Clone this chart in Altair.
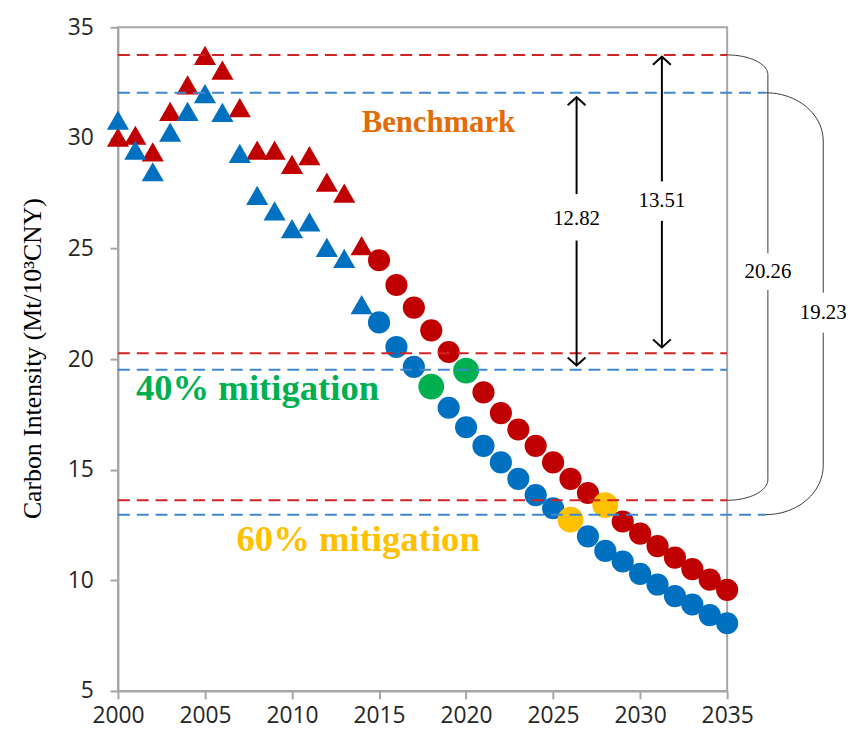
import altair as alt
import pandas as pd
import numpy as np

# ---------------- data ----------------
years = list(range(2000, 2036))
benchmark_red = [30.03, 30.12, 29.37, 31.20, 32.40, 33.73, 33.06, 31.37, 29.45, 29.45,
                 28.80, 29.20, 28.00, 27.50, 25.13,
                 24.47, 23.35, 22.33, 21.30, 20.32, 19.48, 18.50, 17.56, 16.82, 16.08,
                 15.33, 14.59, 13.95, 13.40, 12.66, 12.11, 11.55, 11.03, 10.51, 10.03, 9.57]
benchmark_blue = [30.80, 29.45, 28.47, 30.26, 31.20, 32.00, 31.15, 29.30, 27.40, 26.70,
                  25.90, 26.20, 25.05, 24.55, 22.46,
                  21.66, 20.55, 19.65, 18.76, 17.80, 16.92, 16.08, 15.33, 14.59, 13.85,
                  13.26, 12.74, 11.99, 11.33, 10.85, 10.29, 9.81, 9.29, 8.91, 8.43, 8.06]
last_history_year = 2014

# highlighted years (40% mitigation = green, 60% mitigation = yellow)
green_years = {"blue": 2018, "red": 2020}
yellow_years = {"blue": 2026, "red": 2028}

# dashed reference levels
red_levels = [33.75, 20.27, 13.62]
blue_levels = [32.04, 19.52, 12.97]

x_ticks = [2000, 2005, 2010, 2015, 2020, 2025, 2030, 2035]
y_ticks = [5, 10, 15, 20, 25, 30, 35]

RED = "#C00000"
BLUE = "#0070C0"
GREEN = "#00B050"
YELLOW = "#FFC000"
ORANGE = "#E36C09"
RED_DASH = "#D02424"
BLUE_DASH = "#3F87CF"
AXIS_GRAY = "#A6A6A6"

# ---------------- tables ----------------
rows = []
for s, vals, col in (("red", benchmark_red, RED), ("blue", benchmark_blue, BLUE)):
    for yr, v in zip(years, vals):
        rows.append({"year": yr, "value": v, "series": s, "color": col,
                     "kind": "tri" if yr <= last_history_year else "circ"})
pts = pd.DataFrame(rows)
tri = pts[pts.kind == "tri"]
circ = pts[pts.kind == "circ"]

hl_rows = []
for s, vals in (("red", benchmark_red), ("blue", benchmark_blue)):
    g = green_years[s]
    y_ = yellow_years[s]
    hl_rows.append({"year": g, "value": vals[years.index(g)], "color": GREEN})
    hl_rows.append({"year": y_, "value": vals[years.index(y_)], "color": YELLOW})
hl = pd.DataFrame(hl_rows)

edge = 2035.0
blue_ext = 2037.22
lines = pd.DataFrame(
    [{"x0": 2000, "x1": edge, "level": v, "color": RED_DASH} for v in red_levels] +
    [{"x0": 2000, "x1": (blue_ext if i != 1 else edge), "level": v, "color": BLUE_DASH}
     for i, v in enumerate(blue_levels)]
)


def bracket(name, x_start, x_vert, y_top, y_bot, ry_top, ry_bot, gap_top, gap_bot):
    t = np.linspace(0, np.pi / 2, 24)
    rx = x_vert - x_start
    out = []
    seg = [(x_start + rx * np.sin(a), (y_top - ry_top) + ry_top * np.cos(a)) for a in t]
    seg.append((x_vert, gap_top))
    for i, (a, b) in enumerate(seg):
        out.append({"seg": name + "a", "o": i, "x": a, "y": b})
    seg = [(x_vert, gap_bot)]
    seg += [(x_start + rx * np.cos(a), (y_bot + ry_bot) - ry_bot * np.sin(a)) for a in t]
    for i, (a, b) in enumerate(seg):
        out.append({"seg": name + "b", "o": i, "x": a, "y": b})
    return out


br = pd.DataFrame(
    bracket("r", edge, 2037.34, red_levels[0], red_levels[2], 0.9, 0.94, 24.78, 23.13) +
    bracket("b", blue_ext, 2040.52, blue_levels[0], blue_levels[2], 2.18, 2.23, 23.0, 21.2)
)

# arrows (x, top tip, bottom tip, gap top, gap bottom)
arrows = pd.DataFrame([
    {"x": 2026.35, "top": 31.84, "bot": 19.71, "gt": 27.46, "gb": 25.36},
    {"x": 2031.25, "top": 33.67, "bot": 20.53, "gt": 28.03, "gb": 26.25},
])
shafts = pd.DataFrame(
    [{"x": r.x, "y": r.top, "y2": r.gt} for r in arrows.itertuples()] +
    [{"x": r.x, "y": r.gb, "y2": r.bot} for r in arrows.itertuples()]
)
heads_up = pd.DataFrame({"x": arrows.x, "y": arrows.top})
heads_dn = pd.DataFrame({"x": arrows.x, "y": arrows.bot})

num_labels = pd.DataFrame([
    {"x": 2026.35, "y": 26.34, "t": "12.82"},
    {"x": 2031.25, "y": 27.14, "t": "13.51"},
    {"x": 2037.34, "y": 23.93, "t": "20.26"},
    {"x": 2040.52, "y": 22.06, "t": "19.23"},
])
big_labels = pd.DataFrame([
    {"x": 2018.41, "y": 30.26, "t": "Benchmark", "c": ORANGE, "s": 31},
    {"x": 2008.02, "y": 18.14, "t": "40% mitigation", "c": GREEN, "s": 37},
    {"x": 2013.80, "y": 11.33, "t": "60% mitigation", "c": YELLOW, "s": 37},
])

# ---------------- scales & axes ----------------
xs = alt.Scale(domain=[2000, 2035], nice=False, zero=False)
ys = alt.Scale(domain=[5, 35], nice=False, zero=False)

x_axis = alt.Axis(values=x_ticks, format="d", grid=False, domainColor=AXIS_GRAY,
                  domainWidth=2, tickColor=AXIS_GRAY, tickWidth=2, tickSize=8,
                  labelFont="Open Sans", labelFontSize=23, labelColor="#262626",
                  labelPadding=24, labelBaseline="alphabetic", labelFlush=False,
                  labelAlign="center", title=None)
y_axis = alt.Axis(values=y_ticks, grid=False, domainColor=AXIS_GRAY, domainWidth=2,
                  tickColor=AXIS_GRAY, tickWidth=2, tickSize=8,
                  labelFont="Open Sans", labelFontSize=23, labelColor="#262626",
                  labelPadding=17, labelFlush=False,
                  title="Carbon Intensity (Mt/10³CNY)", titleFont="Liberation Serif",
                  titleFontSize=26, titleFontWeight="normal", titleColor="black",
                  titleX=-86, titleY=334, titleAngle=270, titleAlign="center",
                  titleBaseline="middle")


def X(f):
    return alt.X(f, type="quantitative", scale=xs, axis=x_axis)


def Y(f):
    return alt.Y(f, type="quantitative", scale=ys, axis=y_axis)


tri_layer = alt.Chart(tri).mark_point(shape="triangle-up", filled=True, size=500,
                                      opacity=1).encode(
    x=X("year"), y=Y("value"), color=alt.Color("color:N", scale=None))

circ_layer = alt.Chart(circ).mark_circle(size=500, opacity=1).encode(
    x=X("year"), y=Y("value"), color=alt.Color("color:N", scale=None))

hl_layer = alt.Chart(hl).mark_circle(size=680, opacity=1).encode(
    x=X("year"), y=Y("value"), color=alt.Color("color:N", scale=None))

dash_layer = alt.Chart(lines).mark_rule(strokeDash=[12, 7], strokeWidth=2).encode(
    x=X("x0"), x2="x1", y=Y("level"), color=alt.Color("color:N", scale=None))

br_layer = alt.Chart(br).mark_line(color="#3a3a3a", strokeWidth=1).encode(
    x=X("x"), y=Y("y"), detail="seg:N", order="o:Q")

shaft_layer = alt.Chart(shafts).mark_rule(color="black", strokeWidth=2).encode(
    x=X("x"), y=Y("y"), y2="y2")

head_up = alt.Chart(heads_up).mark_point(shape="M-1,0.9L0,0L1,0.9", filled=False,
                                         size=324, color="black", strokeWidth=2,
                                         opacity=1).encode(x=X("x"), y=Y("y"))
head_dn = alt.Chart(heads_dn).mark_point(shape="M-1,-0.9L0,0L1,-0.9", filled=False,
                                         size=324, color="black", strokeWidth=2,
                                         opacity=1).encode(x=X("x"), y=Y("y"))

num_layer = alt.Chart(num_labels).mark_text(font="Liberation Serif", fontSize=21,
                                            color="black", align="center",
                                            baseline="middle").encode(
    x=X("x"), y=Y("y"), text="t:N")

big_layers = [
    alt.Chart(big_labels[big_labels.t == r.t]).mark_text(
        font="Liberation Serif", fontWeight="bold", fontSize=int(r.s), color=r.c,
        align="center", baseline="alphabetic").encode(x=X("x"), y=Y("y"), text="t:N")
    for r in big_labels.itertuples()
]

chart = alt.layer(
    tri_layer, circ_layer, hl_layer, dash_layer, br_layer, shaft_layer,
    head_up, head_dn, num_layer, *big_layers
).properties(
    width=615, height=670,
    padding={"left": 111, "top": 16, "right": 122, "bottom": 41},
    autosize=alt.AutoSizeParams(type="none"),
    background="white",
).configure_view(stroke=AXIS_GRAY, strokeWidth=2)

chart.save("out.html", embed_options={"renderer": "svg", "actions": False})
